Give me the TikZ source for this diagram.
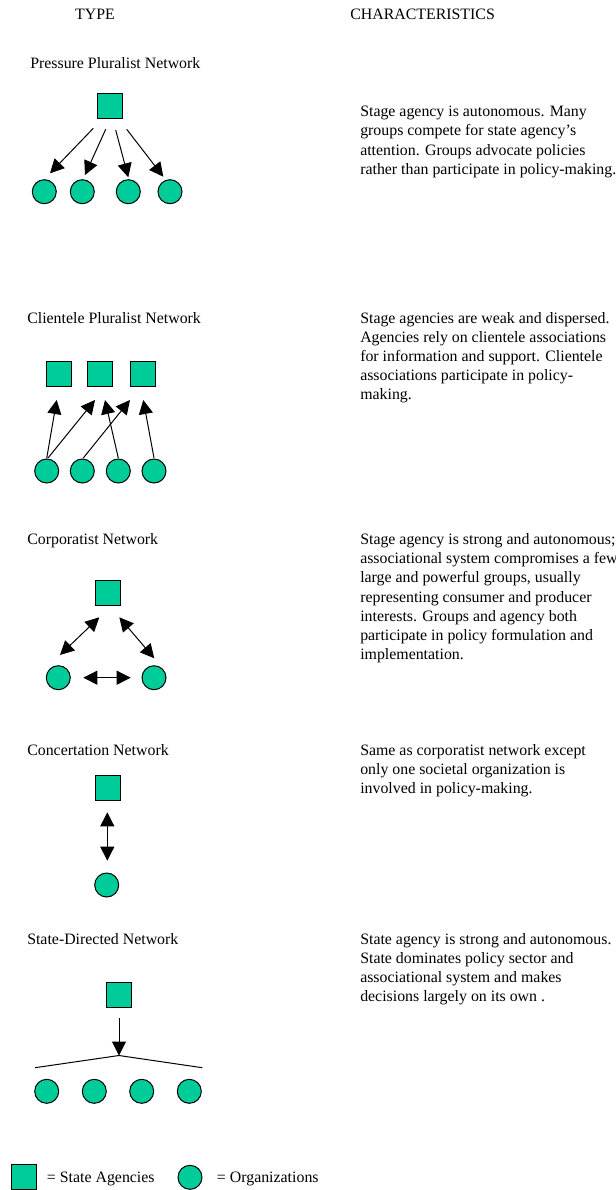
\documentclass[tikz,border=0pt]{standalone}
\usepackage{fontspec}
\setmainfont{Liberation Serif}
\usetikzlibrary{arrows.meta}
\definecolor{orgfill}{RGB}{0,204,153}
\begin{document}
\begin{tikzpicture}[x=0.75pt,y=-0.75pt,
  agency/.style={rectangle,draw=black,fill=orgfill,line width=0.75pt,minimum size=18.75pt,inner sep=0pt},
  org/.style={circle,draw=black,fill=orgfill,line width=0.75pt,minimum size=18pt,inner sep=0pt},
  conn/.style={line width=0.75pt,-{Triangle[length=10.5pt,width=10.5pt]}},
  dconn/.style={line width=0.75pt,{Triangle[length=10.5pt,width=10.5pt]}-{Triangle[length=10.5pt,width=10.5pt]}},
  plain/.style={line width=0.75pt},
  lbl/.style={anchor=base west,inner sep=0pt,font=\fontsize{11.9}{14.4}\selectfont},
  blk/.style={anchor=base west,inner sep=0pt,font=\fontsize{11.9}{14.4}\selectfont}
]
\useasboundingbox[fill=white] (0,0) rectangle (616,1190);

% headers
\node[lbl,anchor=base] (hType) at (95,19) {TYPE};
\node[lbl] (hChar) at (350,19) {CHARACTERISTICS};

% ---------- Pressure Pluralist ----------
\node[lbl] (lPress) at (30,68) {Pressure Pluralist Network};
\node[agency] (p0) at (110,106) {};
\node[org] (p1) at (44.3,191.7) {};
\node[org] (p2) at (82.3,191.7) {};
\node[org] (p3) at (128.3,191.7) {};
\node[org] (p4) at (170,191.7) {};
\coordinate (ps1) at (93.3,128.3); \coordinate (pe1) at (50,173.3);
\coordinate (ps2) at (105.7,129.3); \coordinate (pe2) at (85,175);
\coordinate (ps3) at (115.7,130); \coordinate (pe3) at (128.3,177.3);
\coordinate (ps4) at (126.7,129.3); \coordinate (pe4) at (163.3,176.7);
\draw[conn] (ps1) -- (pe1);
\draw[conn] (ps2) -- (pe2);
\draw[conn] (ps3) -- (pe3);
\draw[conn] (ps4) -- (pe4);
\node[blk] (tPress) at (360,116.7) {\parbox[t]{260pt}{\raggedright
Stage agency is autonomous. Many\\
groups compete for state agency’s\\
attention. Groups advocate policies\\
rather than participate in policy-making.}};

% ---------- Clientele Pluralist ----------
\node[lbl] (lClient) at (27,323) {Clientele Pluralist Network};
\node[agency] (c0a) at (59,374) {};
\node[agency] (c0b) at (100,374) {};
\node[agency] (c0c) at (142.5,374) {};
\node[org] (c1) at (46.7,471) {};
\node[org] (c2) at (82.3,471) {};
\node[org] (c3) at (118.3,471) {};
\node[org] (c4) at (154,471) {};
\coordinate (cs1) at (46.7,458.3); \coordinate (ce1) at (56.7,400);
\coordinate (cs2) at (48,458); \coordinate (ce2) at (95,400);
\coordinate (cs3) at (83.3,458); \coordinate (ce3) at (130,400);
\coordinate (cs4) at (118.3,458); \coordinate (ce4) at (105,400);
\coordinate (cs5) at (154,458); \coordinate (ce5) at (143.3,400);
\draw[conn] (cs1) -- (ce1);
\draw[conn] (cs2) -- (ce2);
\draw[conn] (cs3) -- (ce3);
\draw[conn] (cs4) -- (ce4);
\draw[conn] (cs5) -- (ce5);
\node[blk] (tClient) at (360,323) {\parbox[t]{260pt}{\raggedright
Stage agencies are weak and dispersed.\\
Agencies rely on clientele associations\\
for information and support. Clientele\\
associations participate in policy-\\
making.}};

% ---------- Corporatist ----------
\node[lbl] (lCorp) at (27,544.5) {Corporatist Network};
\node[agency] (k0) at (107.5,593) {};
\node[org] (k1) at (58.3,677.7) {};
\node[org] (k2) at (154,677.7) {};
\coordinate (ka1) at (60,655); \coordinate (kb1) at (99.3,617.3);
\coordinate (ka2) at (119.3,617.3); \coordinate (kb2) at (154.3,658.3);
\coordinate (ka3) at (83.3,677.7); \coordinate (kb3) at (130.7,677.7);
\draw[dconn] (ka1) -- (kb1);
\draw[dconn] (ka2) -- (kb2);
\draw[dconn] (ka3) -- (kb3);
\node[blk] (tCorp) at (360,544.5) {\parbox[t]{300pt}{\raggedright
Stage agency is strong and autonomous;\\
associational system compromises a few\\
large and powerful groups, usually\\
representing consumer and producer\\
interests. Groups and agency both\\
participate in policy formulation and\\
implementation.}};

% ---------- Concertation ----------
\node[lbl] (lConc) at (27,755) {Concertation Network};
\node[agency] (n0) at (107.5,788) {};
\node[org] (n1) at (106.7,885) {};
\coordinate (na) at (107.3,812.3); \coordinate (nb) at (107.3,860.7);
\draw[dconn] (na) -- (nb);
\node[blk] (tConc) at (360,755) {\parbox[t]{260pt}{\raggedright
Same as corporatist network except\\
only one societal organization is\\
involved in policy-making.}};

% ---------- State-Directed ----------
\node[lbl] (lState) at (27,944) {State-Directed Network};
\node[agency] (s0) at (118.8,995) {};
\coordinate (sa) at (119,1018.3);
\coordinate (sapex) at (119,1055.5);
\coordinate (sl) at (35,1067.7);
\coordinate (sr) at (202.3,1067.7);
\draw[conn] (sa) -- (sapex);
\draw[plain] (sl) -- (sapex) -- (sr);
\node[org] (s1) at (46.7,1091.3) {};
\node[org] (s2) at (94.3,1091.3) {};
\node[org] (s3) at (141.7,1091.3) {};
\node[org] (s4) at (189.3,1091.3) {};
\node[blk] (tState) at (360,944) {\parbox[t]{260pt}{\raggedright
State agency is strong and autonomous.\\
State dominates policy sector and\\
associational system and makes\\
decisions largely on its own .}};

% ---------- Legend ----------
\node[agency] (legA) at (24,1177) {};
\node[lbl] (legAt) at (46.7,1182) {= State Agencies};
\node[org] (legO) at (190,1177.3) {};
\node[lbl] (legOt) at (216.7,1182) {= Organizations};
\end{tikzpicture}
\end{document}
